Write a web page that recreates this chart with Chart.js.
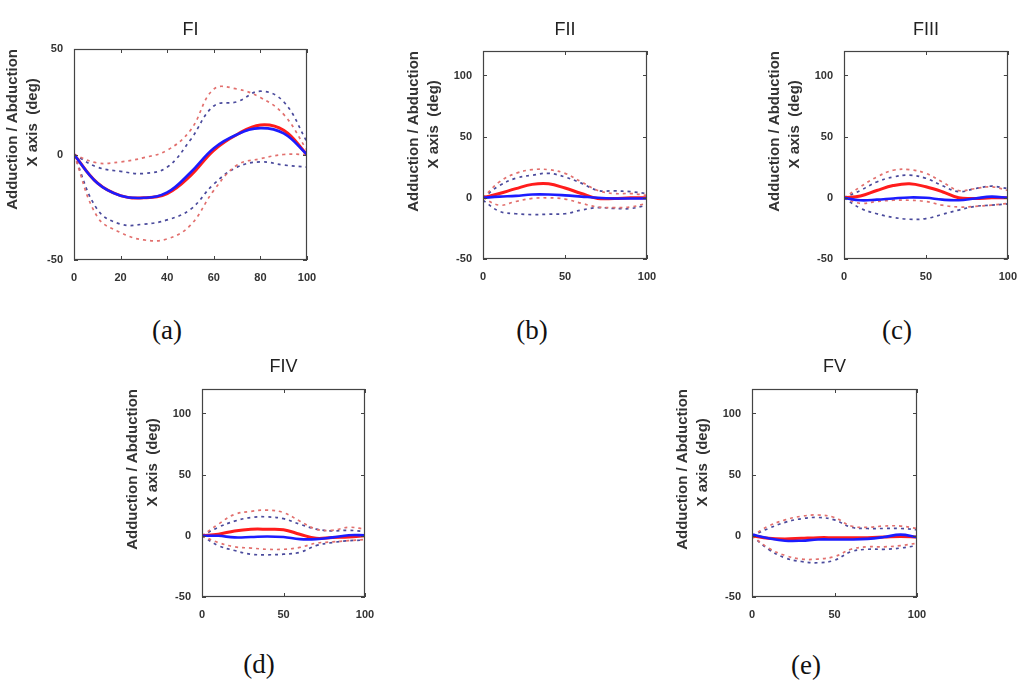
<!DOCTYPE html>
<html><head><meta charset="utf-8">
<script src="https://cdn.jsdelivr.net/npm/chart.js@4.4.0/dist/chart.umd.min.js"></script>
<style>
html,body{margin:0;padding:0;background:#fff;width:1020px;height:680px;overflow:hidden;position:relative}
.panel{position:absolute}
.cap{position:absolute;font-family:'Liberation Serif','Times New Roman',serif;font-size:27px;color:#111;transform:translate(-50%,-50%);white-space:nowrap;line-height:1}
</style></head><body>
<script>
// ---------- DATA ----------
const xValues = [0, 10, 20, 30, 40, 50, 60, 70, 80, 90, 100];
const panelTitles = ['FI', 'FII', 'FIII', 'FIV', 'FV'];
const captions = ['(a)', '(b)', '(c)', '(d)', '(e)'];
const yLabelLines = ['Adduction / Abduction', 'X axis  (deg)'];

// FI
const fiRedMean   = [0, -13.5, -19.5, -20.5, -18.5, -10, 2, 9.5, 14, 11.5, 0];
const fiBlueMean  = [0, -13.5, -19.5, -20.5, -18, -8.5, 3, 9.5, 12.5, 10, 0];
const fiRedUpper  = [0, -4, -3.5, -1.5, 2, 11.5, 31, 31, 27, 19, 2];
const fiBlueUpper = [0, -6, -8, -9, -6, 7, 23, 25, 30, 25, 6];
const fiRedLower  = [0, -29.5, -37, -40.5, -40, -33.5, -17, -5, -2, 0, 0];
const fiBlueLower = [0, -26, -33, -33, -31, -26, -14, -6, -3.5, -5, -6];
// FII
const fiiRedMean   = [0, 3.5, 7.5, 11, 11.5, 8, 3.5, -0.5, -0.5, 0, 0];
const fiiBlueMean  = [0, 1, 1.6, 2.7, 2.7, 2, 1, 0, -0.5, -0.5, -0.5];
const fiiRedUpper  = [0, 13, 20, 23, 23, 20, 13, 6, 3.5, 3.5, 2];
const fiiBlueUpper = [0, 10, 16, 18.5, 20, 17, 12, 6, 5.7, 5, 3.5];
const fiiRedLower  = [0, -6, -3, -0.5, 0, -1, -4.5, -7.5, -8, -7.5, -4.5];
const fiiBlueLower = [-2, -11, -13, -13.7, -13.4, -13, -10, -8, -8.7, -8.7, -6];
// FIII
const fiiiRedMean   = [0, 1.5, 6, 10, 11.5, 9, 5, 0, -0.5, 0, 0];
const fiiiBlueMean  = [0, -2, -1.5, -0.5, 0.3, 0, -1.5, -2, -0.5, 1, 0];
const fiiiRedUpper  = [0, 9, 17, 22.5, 23, 20, 13, 6, 7.5, 9, 6];
const fiiiBlueUpper = [0, 6, 13, 17, 18.5, 16, 10, 5, 7.5, 9.5, 7.5];
const fiiiRedLower  = [0, -4.5, -3, -2, -2, -3, -6, -7.5, -7, -6, -4.5];
const fiiiBlueLower = [0, -8.5, -13, -16, -17.5, -17, -13.5, -10, -7, -6, -5];
// FIV
const fivRedMean   = [0, 1.3, 4, 5.4, 5.4, 5, 1.3, -2, -1.3, -1, 0];
const fivBlueMean  = [0, 0, -1.3, -1, -0.5, -1, -2.7, -2.7, -1.3, 0.5, 0.5];
const fivRedUpper  = [0, 9.5, 17.5, 20, 21, 19, 12, 5.5, 4.5, 7, 5.5];
const fivBlueUpper = [0, 7, 12, 15, 15.5, 14, 9.5, 5.5, 4, 4.5, 3.5];
const fivRedLower  = [0, -5.5, -9, -10, -11, -11, -9.5, -6, -5, -4, -3];
const fivBlueLower = [0, -8, -12, -15, -15.5, -15, -13.5, -8, -5.5, -4, -3.5];
// FV
const fvRedMean   = [0, -2, -2.5, -2, -1.5, -1.5, -1.5, -1.5, -1, -0.5, -1];
const fvBlueMean  = [1, -2, -4, -4, -3, -3, -3, -2.5, -1, 1, -1];
const fvRedUpper  = [0, 8, 13, 16, 17, 15, 8, 7, 8, 8, 6];
const fvBlueUpper = [0, 6, 11, 14, 15, 13, 7, 6, 6, 6, 5];
const fvRedLower  = [0, -10, -16, -19, -19, -17, -11, -9, -9, -8, -6];
const fvBlueLower = [0, -11, -18, -21, -22, -20, -13, -11, -11, -10, -8];

const fiYTicks = [-50, 0, 50];
const otherYTicks = [-50, 0, 50, 100];
const fiXTicks = [0, 20, 40, 60, 80, 100];
const otherXTicks = [0, 50, 100];

const panelSeries = [
  [fiBlueMean, fiRedMean, fiRedUpper, fiBlueUpper, fiRedLower, fiBlueLower],
  [fiiBlueMean, fiiRedMean, fiiRedUpper, fiiBlueUpper, fiiRedLower, fiiBlueLower],
  [fiiiBlueMean, fiiiRedMean, fiiiRedUpper, fiiiBlueUpper, fiiiRedLower, fiiiBlueLower],
  [fivBlueMean, fivRedMean, fivRedUpper, fivBlueUpper, fivRedLower, fivBlueLower],
  [fvBlueMean, fvRedMean, fvRedUpper, fvBlueUpper, fvRedLower, fvBlueLower]
];
const panelYRange = [[-50, 50], [-50, 120], [-50, 120], [-50, 120], [-50, 120]];
const panelYTicks = [fiYTicks, otherYTicks, otherYTicks, otherYTicks, otherYTicks];
const panelXTicks = [fiXTicks, otherXTicks, otherXTicks, otherXTicks, otherXTicks];

// ---------- STYLE / LAYOUT ----------
const seriesStyles = [
  {color: '#1c1cff', width: 2.6, dash: []},
  {color: '#ff1c1c', width: 3, dash: []},
  {color: '#e2706e', width: 1.7, dash: [3, 4]},
  {color: '#4a4a9c', width: 1.7, dash: [3, 4]},
  {color: '#e2706e', width: 1.7, dash: [3, 4]},
  {color: '#4a4a9c', width: 1.7, dash: [3, 4]}
];
const layouts = [
  {left: 0,   top: 0,   w: 330, h: 290, yw: 74, pt: 19.2, pb: 8.2,  pr: 23},
  {left: 401, top: 0,   w: 269, h: 289, yw: 82, pt: 19.2, pb: 10.2, pr: 23},
  {left: 762, top: 0,   w: 258, h: 289, yw: 82, pt: 19.2, pb: 10.2, pr: 12},
  {left: 120, top: 340, w: 268, h: 287, yw: 82, pt: 16.2, pb: 11.2, pr: 23},
  {left: 670, top: 340, w: 270, h: 287, yw: 82, pt: 16.2, pb: 11.2, pr: 23}
];
const captionPos = [[167, 330], [532, 330], [897, 330], [259, 664], [806, 665]];

const FONT = "'Liberation Sans', Arial, Helvetica, sans-serif";
const tickFont = {family: FONT, size: 11, weight: 'bold'};

const framePlugin = {
  id: 'frame',
  afterDraw(chart) {
    const {ctx, chartArea: {left, right, top, bottom}, scales: {x, y}} = chart;
    ctx.save();
    ctx.strokeStyle = '#444';
    ctx.lineWidth = 1;
    ctx.beginPath();
    const L = 4;
    x.ticks.forEach(t => {
      const px = Math.round(x.getPixelForValue(t.value)) + 0.5;
      ctx.moveTo(px, bottom); ctx.lineTo(px, bottom - L);
      ctx.moveTo(px, top); ctx.lineTo(px, top + L);
    });
    y.ticks.forEach(t => {
      const py = Math.round(y.getPixelForValue(t.value)) + 0.5;
      ctx.moveTo(left, py); ctx.lineTo(left + L, py);
      ctx.moveTo(right, py); ctx.lineTo(right - L, py);
    });
    ctx.stroke();
    ctx.lineWidth = 1.2;
    ctx.strokeRect(Math.round(left) + 0.5, Math.round(top) + 0.5, Math.round(right - left) - 1, Math.round(bottom - top) - 1);
    ctx.restore();
  }
};

layouts.forEach((lay, p) => {
  const div = document.createElement('div');
  div.className = 'panel';
  div.style.left = lay.left + 'px';
  div.style.top = lay.top + 'px';
  div.style.width = lay.w + 'px';
  div.style.height = lay.h + 'px';
  const cv = document.createElement('canvas');
  cv.width = lay.w; cv.height = lay.h;
  div.appendChild(cv);
  document.body.appendChild(div);

  const datasets = panelSeries[p].map((arr, i) => ({
    data: xValues.map((x, k) => ({x: x, y: arr[k]})),
    borderColor: seriesStyles[i].color,
    borderWidth: seriesStyles[i].width,
    borderDash: seriesStyles[i].dash,
    pointRadius: 0,
    tension: 0.4,
    fill: false
  }));
  const yTicks = panelYTicks[p];
  const xTicks = panelXTicks[p];

  new Chart(cv, {
    type: 'line',
    data: {datasets},
    options: {
      responsive: false,
      animation: false,
      devicePixelRatio: 1,
      layout: {padding: {left: 0, right: lay.pr, top: 0, bottom: 0}},
      plugins: {
        legend: {display: false},
        tooltip: {enabled: false},
        title: {
          display: true, text: panelTitles[p], fullSize: false,
          color: '#222', font: {family: FONT, size: 18, weight: 'normal', lineHeight: 1.2},
          padding: {top: lay.pt, bottom: lay.pb}
        }
      },
      scales: {
        x: {
          type: 'linear', min: 0, max: 100,
          grid: {display: false}, border: {display: false},
          afterBuildTicks: s => { s.ticks = xTicks.map(v => ({value: v})); },
          ticks: {font: tickFont, color: '#333', padding: 3, maxRotation: 0, autoSkip: false},
          afterFit: s => { s.height = 30; }
        },
        y: {
          type: 'linear', min: panelYRange[p][0], max: panelYRange[p][1],
          grid: {display: false}, border: {display: false},
          afterBuildTicks: s => { s.ticks = yTicks.map(v => ({value: v})); },
          ticks: {font: tickFont, color: '#333', padding: 3, autoSkip: false},
          title: {
            display: true,
            text: [yLabelLines[0], yLabelLines[1] + '       '],
            align: 'end',
            color: '#333',
            font: {family: FONT, size: 15, weight: 'bold', lineHeight: 20 / 15},
            padding: {top: 3, bottom: 0}
          },
          afterFit: s => { s.width = lay.yw; }
        }
      }
    },
    plugins: [framePlugin]
  });

  const cap = document.createElement('div');
  cap.className = 'cap';
  cap.textContent = captions[p];
  cap.style.left = captionPos[p][0] + 'px';
  cap.style.top = captionPos[p][1] + 'px';
  document.body.appendChild(cap);
});
</script>
</body></html>
